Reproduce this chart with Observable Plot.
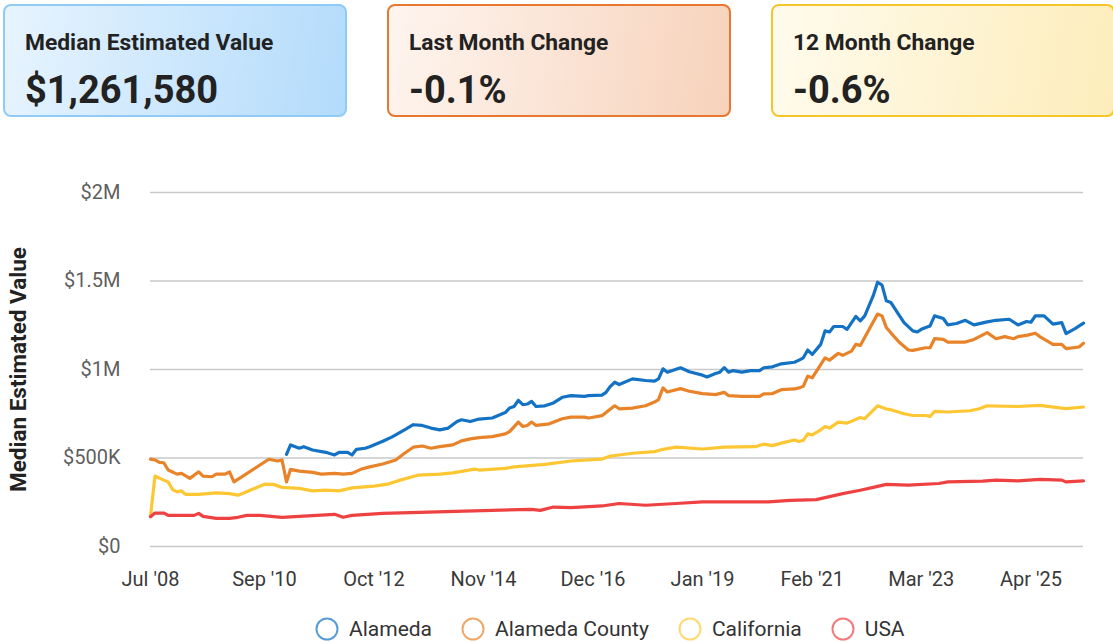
<!DOCTYPE html>
<html><head><meta charset="utf-8">
<script src="https://cdn.jsdelivr.net/npm/d3@7"></script>
<script src="https://cdn.jsdelivr.net/npm/@observablehq/plot@0.6"></script>
<style>
body{margin:0;background:#fff;font-family:Roboto,"Noto Sans",sans-serif;}
#wrap{position:relative;width:1113px;height:642px;overflow:hidden;}
.card{position:absolute;top:4px;height:113px;width:344px;box-sizing:border-box;border:2px solid;border-radius:8px;}
.card .t{position:absolute;left:20px;top:25px;font-size:22.8px;font-weight:700;line-height:23px;color:#222;white-space:nowrap;}
.card .v{position:absolute;left:20px;top:65px;font-size:38px;font-weight:700;line-height:38px;color:#222;white-space:nowrap;}
#chart{position:absolute;left:0;top:130px;}
#legend{position:absolute;left:315px;top:617px;display:flex;align-items:center;font-size:21px;color:#333;white-space:nowrap;}
#legend .item{display:flex;align-items:center;margin-right:29px;}
#legend svg{margin-right:10px;}
</style>
</head><body>
<div id="wrap">
  <div id="cards"></div>
  <div id="chart"></div>
  <div id="legend"></div>
</div>
<script>
// ---- Summary cards ----
const cardTitles = ["Median Estimated Value", "Last Month Change", "12 Month Change"];
const cardValues = ["$1,261,580", "-0.1%", "-0.6%"];

// ---- Series ----
const seriesNames = ["Alameda", "Alameda County", "California", "USA"];
const seriesColors = ["#1372c4", "#e8832a", "#fdc734", "#ee4242"];

const alamedaDates = ["2011-02","2011-03","2011-05","2011-06","2011-08","2011-11","2012-01","2012-02","2012-04","2012-05","2012-06","2012-08","2012-09","2012-12","2013-02","2013-05","2013-07","2013-09","2013-11","2014-01","2014-03","2014-05","2014-06","2014-08","2014-10","2015-01","2015-04","2015-05","2015-06","2015-07","2015-08","2015-09","2015-10","2015-11","2016-01","2016-03","2016-05","2016-07","2016-10","2016-11","2017-02","2017-03","2017-04","2017-05","2017-06","2017-09","2017-12","2018-02","2018-03","2018-04","2018-05","2018-08","2018-10","2019-01","2019-02","2019-04","2019-05","2019-06","2019-07","2019-08","2019-10","2019-12","2020-02","2020-03","2020-05","2020-07","2020-10","2020-11","2020-12","2021-01","2021-02","2021-04","2021-05","2021-06","2021-07","2021-09","2021-10","2021-12","2022-01","2022-02","2022-04","2022-05","2022-06","2022-07","2022-08","2022-10","2022-11","2023-01","2023-02","2023-03","2023-04","2023-05","2023-06","2023-08","2023-09","2023-11","2024-01","2024-03","2024-06","2024-08","2024-11","2025-01","2025-03","2025-04","2025-05","2025-07","2025-09","2025-11","2025-12","2026-02","2026-04"];
const alamedaValues = [521000,574000,555000,564000,545000,532000,517000,532000,532000,517000,549000,555000,564000,595000,618000,659000,688000,684000,669000,659000,669000,706000,716000,706000,720000,726000,757000,782000,791000,826000,801000,805000,820000,791000,795000,811000,843000,852000,848000,852000,855000,871000,905000,928000,915000,947000,938000,934000,947000,1004000,985000,1010000,987000,968000,958000,977000,985000,1010000,985000,994000,985000,994000,994000,1010000,1015000,1032000,1041000,1053000,1066000,1110000,1085000,1142000,1218000,1212000,1243000,1243000,1227000,1300000,1275000,1303000,1417000,1493000,1477000,1388000,1379000,1303000,1265000,1218000,1212000,1227000,1237000,1246000,1303000,1288000,1252000,1260000,1278000,1252000,1269000,1278000,1284000,1252000,1271000,1267000,1303000,1303000,1256000,1265000,1203000,1231000,1261580];

const countyDates = ["2008-07","2008-08","2008-09","2008-10","2008-11","2009-01","2009-02","2009-04","2009-06","2009-07","2009-09","2009-10","2009-12","2010-01","2010-02","2010-10","2010-12","2011-01","2011-02","2011-03","2011-05","2011-08","2011-10","2012-01","2012-03","2012-05","2012-07","2012-09","2012-12","2013-03","2013-05","2013-07","2013-09","2013-11","2014-01","2014-04","2014-06","2014-08","2014-10","2015-01","2015-04","2015-05","2015-07","2015-08","2015-09","2015-10","2015-11","2016-02","2016-05","2016-07","2016-10","2016-11","2017-02","2017-04","2017-05","2017-06","2017-09","2017-12","2018-02","2018-03","2018-04","2018-05","2018-08","2018-10","2019-01","2019-04","2019-06","2019-07","2019-10","2020-02","2020-03","2020-05","2020-07","2020-10","2020-11","2020-12","2021-01","2021-02","2021-05","2021-06","2021-08","2021-09","2021-11","2021-12","2022-01","2022-05","2022-06","2022-07","2022-08","2022-10","2022-12","2023-01","2023-04","2023-05","2023-06","2023-08","2023-09","2024-01","2024-03","2024-06","2024-08","2024-10","2024-12","2025-01","2025-03","2025-05","2025-06","2025-09","2025-11","2025-12","2026-03","2026-04"];
const countyValues = [494000,489000,475000,473000,432000,409000,413000,385000,422000,398000,394000,409000,409000,422000,365000,493000,483000,489000,365000,436000,426000,419000,409000,413000,409000,413000,436000,450000,466000,489000,527000,561000,568000,555000,564000,574000,597000,608000,615000,621000,636000,649000,703000,678000,684000,703000,684000,693000,722000,731000,731000,726000,739000,777000,795000,778000,782000,795000,816000,830000,896000,873000,892000,877000,864000,858000,871000,852000,848000,848000,862000,864000,886000,890000,896000,905000,962000,953000,1066000,1053000,1091000,1080000,1104000,1142000,1136000,1313000,1303000,1237000,1208000,1152000,1110000,1108000,1123000,1123000,1174000,1170000,1155000,1155000,1170000,1208000,1174000,1186000,1174000,1186000,1193000,1205000,1186000,1142000,1142000,1118000,1127000,1148000];

const californiaDates = ["2008-07","2008-08","2008-10","2008-11","2008-12","2009-01","2009-02","2009-03","2009-06","2009-08","2009-10","2010-01","2010-03","2010-04","2010-09","2010-11","2011-01","2011-05","2011-08","2011-11","2012-02","2012-05","2012-10","2013-01","2013-04","2013-08","2014-01","2014-04","2014-09","2014-10","2015-04","2015-06","2016-01","2016-07","2017-02","2017-04","2017-06","2017-09","2018-02","2018-04","2018-07","2019-01","2019-06","2020-01","2020-03","2020-05","2020-07","2020-10","2020-11","2020-12","2021-01","2021-02","2021-04","2021-05","2021-06","2021-08","2021-10","2022-01","2022-02","2022-05","2022-07","2022-08","2022-11","2023-01","2023-04","2023-05","2023-06","2023-09","2024-02","2024-04","2024-06","2025-01","2025-06","2025-11","2025-12","2026-04"];
const californiaValues = [170000,398000,375000,365000,322000,309000,314000,295000,294000,299000,303000,299000,290000,299000,352000,351000,334000,328000,314000,318000,314000,331000,341000,352000,375000,403000,409000,416000,437000,432000,441000,450000,464000,483000,494000,511000,517000,527000,536000,549000,561000,551000,561000,564000,578000,570000,584000,602000,593000,600000,636000,630000,659000,678000,669000,703000,697000,729000,722000,795000,777000,773000,750000,740000,740000,735000,763000,760000,767000,777000,795000,791000,797000,782000,779000,788000];

const usaDates = ["2008-07","2008-08","2008-10","2008-11","2009-05","2009-06","2009-07","2009-10","2010-01","2010-03","2010-05","2010-08","2011-01","2011-05","2012-01","2012-03","2012-05","2012-12","2015-10","2015-12","2016-03","2016-07","2017-02","2017-06","2017-12","2018-07","2019-01","2020-04","2020-09","2021-03","2021-09","2022-01","2022-04","2022-07","2022-12","2023-07","2023-09","2024-05","2024-08","2025-01","2025-06","2025-11","2025-12","2026-04"];
const usaValues = [168000,189000,189000,176000,176000,187000,170000,159000,159000,165000,176000,176000,165000,170000,182000,165000,176000,187000,210000,204000,223000,220000,229000,243000,233000,243000,252000,252000,261000,265000,299000,318000,334000,351000,347000,356000,365000,369000,375000,371000,379000,375000,365000,371000];

// ---- Axes ----
const xTickDates = ["2008-07","2010-09","2012-10","2014-11","2016-12","2019-01","2021-02","2023-03","2025-04"];
const xTickLabels = ["Jul '08","Sep '10","Oct '12","Nov '14","Dec '16","Jan '19","Feb '21","Mar '23","Apr '25"];
const yTickValues = [0, 500000, 1000000, 1500000, 2000000];
const yTickLabels = ["$0", "$500K", "$1M", "$1.5M", "$2M"];
const yAxisTitle = "Median Estimated Value";
const xDomain = ["2008-07", "2026-04"];

// ---- build ----
const parse = d3.utcParse("%Y-%m");
const seriesDates = [alamedaDates, countyDates, californiaDates, usaDates];
const seriesValues = [alamedaValues, countyValues, californiaValues, usaValues];
const rows = [];
seriesNames.forEach((name, i) => {
  seriesDates[i].forEach((d, j) => rows.push({series: name, date: parse(d), value: seriesValues[i][j]}));
});

// cards
const cardStyles = [
  {left: 3, bg: "linear-gradient(100deg,#e7f4fe 0%,#b3dbfb 100%)", border: "#90cbf8"},
  {left: 387, bg: "linear-gradient(100deg,#fef5ef 0%,#f7d2bb 100%)", border: "#e8772f"},
  {left: 771, bg: "linear-gradient(100deg,#fffbed 0%,#fdedbb 100%)", border: "#f6c52a"}
];
const cardsEl = document.getElementById("cards");
cardTitles.forEach((t, i) => {
  const c = document.createElement("div");
  c.className = "card";
  c.style.left = cardStyles[i].left + "px";
  c.style.background = cardStyles[i].bg;
  c.style.borderColor = cardStyles[i].border;
  const te = document.createElement("div"); te.className = "t"; te.textContent = t;
  const ve = document.createElement("div"); ve.className = "v"; ve.textContent = cardValues[i];
  c.appendChild(te); c.appendChild(ve);
  cardsEl.appendChild(c);
});

const xTicks = xTickDates.map(parse);
const xFmt = new Map(xTickDates.map((d, i) => [+parse(d), xTickLabels[i]]));
const yFmt = new Map(yTickValues.map((v, i) => [v, yTickLabels[i]]));

const chart = Plot.plot({
  width: 1113,
  height: 470,
  marginLeft: 150,
  marginRight: 30,
  marginTop: 62,
  marginBottom: 54,
  style: {fontFamily: "Roboto, sans-serif", fontSize: "20px", background: "transparent"},
  x: {type: "utc", domain: xDomain.map(parse)},
  y: {domain: [0, 2000000]},
  color: {domain: seriesNames, range: seriesColors},
  marks: [
    Plot.gridY(yTickValues, {stroke: "#c9c9c9", strokeOpacity: 1, strokeWidth: 1.5}),
    Plot.axisY(yTickValues, {tickSize: 0, tickPadding: 30, tickFormat: v => yFmt.get(v), color: "#5f5f5f", label: null, fontSize: 20}),
    Plot.axisX(xTicks, {tickSize: 0, tickPadding: 25, tickFormat: d => xFmt.get(+d), color: "#3a3a3a", label: null, fontSize: 20}),
    Plot.line(rows, {x: "date", y: "value", z: "series", stroke: "series", strokeWidth: 3.2, strokeLinejoin: "round", strokeLinecap: "round"}),
    Plot.text([yAxisTitle], {frameAnchor: "left", dx: -132, rotate: -90, textAnchor: "middle", fontWeight: "bold", fontSize: 22.5, fill: "#222"})
  ]
});
document.getElementById("chart").appendChild(chart);

// legend
const legendEl = document.getElementById("legend");
seriesNames.forEach((name, i) => {
  const item = document.createElement("div");
  item.className = "item";
  item.innerHTML = `<svg width="24" height="24"><circle cx="12" cy="12" r="10.5" fill="none" stroke="${seriesColors[i]}" stroke-opacity="0.7" stroke-width="2"/></svg>`;
  const s = document.createElement("span");
  s.textContent = name;
  item.appendChild(s);
  legendEl.appendChild(item);
});
</script>
</body></html>
